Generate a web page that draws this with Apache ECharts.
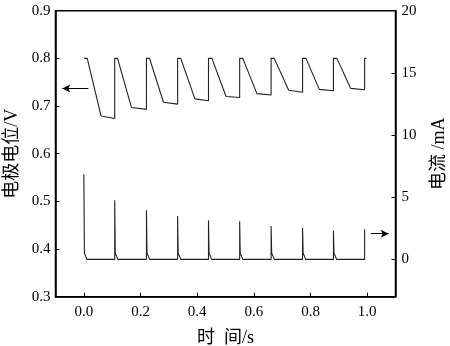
<!DOCTYPE html>
<html>
<head>
<meta charset="utf-8">
<script src="https://cdn.jsdelivr.net/npm/echarts@6/dist/echarts.min.js"></script>
<style>
	html, body { margin: 0; padding: 0; background: #fff; }
	#chart { width: 450px; height: 346px; }
</style>
</head>
<body>
<div id="chart"></div>
<script>
	// 电位曲线 (左轴, V)
	var cycleStart = [0, 0.109, 0.221, 0.331, 0.440, 0.550, 0.661, 0.772, 0.881, 0.991];
	var cycleTopEnd = [0.012, 0.119, 0.232, 0.342, 0.452, 0.561, 0.672, 0.784, 0.893, 0.997];
	var topValue = 0.80;
	var dropEndTime = [0.061, 0.168, 0.281, 0.392, 0.502, 0.611, 0.723, 0.831, 0.942];
	var dropEndValue = [0.679, 0.697, 0.708, 0.715, 0.720, 0.726, 0.733, 0.735, 0.737];
	var cycleEndValue = [0.674, 0.693, 0.704, 0.711, 0.718, 0.723, 0.729, 0.732, 0.734];

	// 电流曲线 (右轴, mA)
	var spikeTimes = [0, 0.109, 0.221, 0.331, 0.440, 0.550, 0.661, 0.772, 0.881, 0.991];
	var spikePeak = [6.84, 4.75, 3.95, 3.49, 3.14, 3.06, 2.68, 2.52, 2.33, 2.42];
	var tailOffset = [0.002, 0.006, 0.011];
	var tailValue = [0.5, 0.3, 0];

	var xTicks = [0, 0.2, 0.4, 0.6, 0.8, 1.0];
	var currentTicks = [0, 5, 10, 15, 20];

	var potentialData = [];
	cycleStart.forEach(function (t, i) {
		potentialData.push([t, topValue]);
		potentialData.push([cycleTopEnd[i], topValue]);
		if (i < dropEndTime.length) {
			potentialData.push([dropEndTime[i], dropEndValue[i]]);
			potentialData.push([cycleStart[i + 1], cycleEndValue[i]]);
		}
	});

	var currentData = [];
	spikeTimes.forEach(function (t, i) {
		if (i > 0) currentData.push([t, 0]);
		currentData.push([t, spikePeak[i]]);
		if (i < spikeTimes.length - 1) {
			tailOffset.forEach(function (d, j) {
				currentData.push([t + d, tailValue[j]]);
			});
		}
	});

	var font = "'Liberation Serif', 'Noto Sans CJK SC', serif";
	var arrowStyle = { color: '#000', width: 1, type: 'solid' };

	var chart = echarts.init(document.getElementById('chart'));
	var option = {
		animation: false,
		backgroundColor: '#fff',
		grid: {
			left: 55.5, right: 54.5, top: 10.7, bottom: 49.3,
			outerBoundsMode: 'none', containLabel: false,
			show: true, borderColor: '#000', borderWidth: 1.5
		},
		xAxis: {
			type: 'value', min: -0.1, max: 1.1,
			name: '时  间/s', nameLocation: 'middle', nameGap: 33,
			nameTextStyle: { fontFamily: font, fontSize: 18, color: '#000' },
			axisLine: { show: true, onZero: false, lineStyle: { color: '#000', width: 1.5 } },
			axisTick: { show: true, inside: true, length: 4, customValues: xTicks, lineStyle: { color: '#000' } },
			axisLabel: {
				customValues: xTicks, margin: 8,
				fontFamily: font, fontSize: 15, color: '#000',
				formatter: function (v) { return v.toFixed(1); }
			},
			splitLine: { show: false }
		},
		yAxis: [
			{
				type: 'value', min: 0.3, max: 0.9, interval: 0.1,
				name: '电极电位/V', nameLocation: 'middle', nameGap: 31, nameRotate: 90,
				nameTextStyle: { fontFamily: font, fontSize: 18, color: '#000' },
				axisLine: { show: true, onZero: false, lineStyle: { color: '#000', width: 1.5 } },
				axisTick: { show: true, inside: true, length: 4, lineStyle: { color: '#000' } },
				axisLabel: {
					margin: 5, fontFamily: font, fontSize: 15, color: '#000',
					formatter: function (v) { return v.toFixed(1); }
				},
				splitLine: { show: false }
			},
			{
				type: 'value', min: -3, max: 20, position: 'right',
				name: '电流 /mA', nameLocation: 'middle', nameGap: 35, nameRotate: 90,
				nameTextStyle: { fontFamily: font, fontSize: 18, color: '#000' },
				axisLine: { show: true, onZero: false, lineStyle: { color: '#000', width: 1.5 } },
				axisTick: { show: true, inside: true, length: 4, customValues: currentTicks, lineStyle: { color: '#000' } },
				axisLabel: { customValues: currentTicks, margin: 6, fontFamily: font, fontSize: 15, color: '#000' },
				splitLine: { show: false }
			}
		],
		series: [
			{
				name: 'potential', type: 'line', yAxisIndex: 0,
				data: potentialData, symbol: 'none',
				lineStyle: { color: '#222', width: 1.1 },
				markLine: {
					silent: true, symbol: ['none', 'arrow'], symbolSize: [6, 8],
					label: { show: false }, lineStyle: arrowStyle,
					data: [[{ coord: [0.016, 0.737] }, { coord: [-0.076, 0.737] }]]
				}
			},
			{
				name: 'current', type: 'line', yAxisIndex: 1,
				data: currentData, symbol: 'none',
				lineStyle: { color: '#222', width: 1.1 },
				markLine: {
					silent: true, symbol: ['none', 'arrow'], symbolSize: [6, 8],
					label: { show: false }, lineStyle: arrowStyle,
					data: [[{ coord: [1.013, 2.07] }, { coord: [1.076, 2.07] }]]
				}
			}
		]
	};
	chart.setOption(option);
</script>
</body>
</html>
